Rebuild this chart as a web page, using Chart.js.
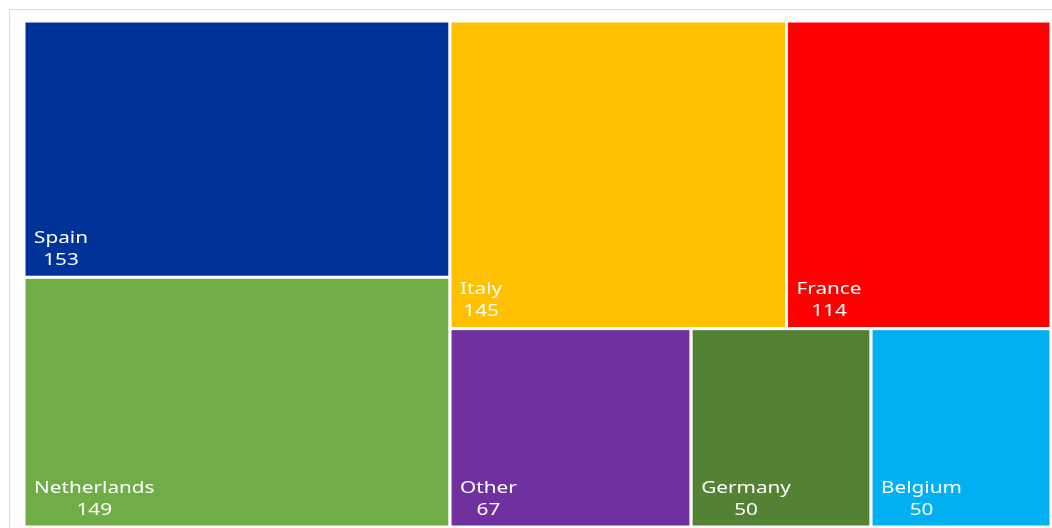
<!DOCTYPE html>
<html>
<head>
<meta charset="utf-8">
<script src="https://cdn.jsdelivr.net/npm/chart.js@4.4.1/dist/chart.umd.min.js"></script>
<style>
    html, body { margin: 0; padding: 0; background: #fff; }
    #wrap { width: 1052px; height: 528px; }
</style>
</head>
<body>
<div id="wrap"><canvas id="treeChart"></canvas></div>
<script>
const countries = ['Spain', 'Netherlands', 'Italy', 'France', 'Other', 'Germany', 'Belgium'];
const counts = [153, 149, 145, 114, 67, 50, 50];
const tileColors = ['#003399', '#70AD47', '#FFC000', '#FF0000', '#7030A0', '#548235', '#00B0F0'];

// squarified layout, strips alternate column / row
function squarify(values, W, H) {
    const rects = [];
    let x = 0, y = 0, w = W, h = H;
    let rem = values.reduce((a, b) => a + b, 0);
    let i = 0, vertical = true;
    while (i < values.length) {
        const scale = (w * h) / rem;
        const side = vertical ? h : w;
        const worst = (row) => {
            const s = row.reduce((a, b) => a + b, 0);
            const t = s * scale / side;
            return Math.max(...row.map(v => { const l = v * scale / t; return Math.max(l / t, t / l); }));
        };
        let row = [values[i]];
        let best = worst(row);
        let j = i + 1;
        while (j < values.length) {
            const cand = row.concat(values[j]);
            const r = worst(cand);
            if (r <= best) { row = cand; best = r; j++; } else break;
        }
        const rowSum = row.reduce((a, b) => a + b, 0);
        const t = rowSum * scale / side;
        let c = vertical ? y : x;
        row.forEach(v => {
            const l = v * scale / t;
            if (vertical) rects.push({ x: x, y: c, w: t, h: l });
            else rects.push({ x: c, y: y, w: l, h: t });
            c += l;
        });
        if (vertical) { x += t; w -= t; } else { y += t; h -= t; }
        rem -= rowSum;
        vertical = !vertical;
        i = j;
    }
    return rects;
}

const treemapPlugin = {
    id: 'treemap',
    beforeDraw(chart) {
        // light frame line top / left
        const ctx = chart.ctx;
        ctx.save();
        ctx.strokeStyle = '#d9d9d9';
        ctx.lineWidth = 1;
        ctx.beginPath();
        ctx.moveTo(9.5, chart.height);
        ctx.lineTo(9.5, 9.5);
        ctx.lineTo(chart.width, 9.5);
        ctx.stroke();
        ctx.restore();
    },
    afterDatasetsDraw(chart) {
        const { ctx, chartArea, scales } = chart;
        const W = chartArea.right - chartArea.left;
        const H = chartArea.bottom - chartArea.top;
        const rects = squarify(counts, W, H);
        ctx.save();
        rects.forEach((r, k) => {
            const x0 = scales.x.getPixelForValue(r.x / W);
            const x1 = scales.x.getPixelForValue((r.x + r.w) / W);
            const y0 = scales.y.getPixelForValue(r.y / H);
            const y1 = scales.y.getPixelForValue((r.y + r.h) / H);
            ctx.fillStyle = tileColors[k];
            ctx.fillRect(x0, y0, x1 - x0, y1 - y0);
            ctx.strokeStyle = '#ffffff';
            ctx.lineWidth = 3;
            ctx.strokeRect(x0, y0, x1 - x0, y1 - y0);

            // labels, stretched a bit like the original
            const sx = 1.22;
            ctx.fillStyle = '#ffffff';
            ctx.textBaseline = 'middle';
            ctx.font = '17px "Noto Sans"';
            const nameW = ctx.measureText(countries[k]).width * sx;
            const lx = x0 + 10;
            ctx.save();
            ctx.translate(lx, y1 - 39);
            ctx.scale(sx, 1);
            ctx.textAlign = 'left';
            ctx.fillText(countries[k], 0, 0);
            ctx.restore();
            ctx.save();
            ctx.translate(lx + nameW / 2, y1 - 17);
            ctx.scale(sx, 1);
            ctx.textAlign = 'center';
            ctx.fillText(String(counts[k]), 0, 0);
            ctx.restore();
        });
        ctx.restore();
    }
};

document.addEventListener('DOMContentLoaded', () => {
    new Chart(document.getElementById('treeChart'), {
        type: 'scatter',
        data: {
            labels: countries,
            datasets: [{ label: 'Count', data: [], pointRadius: 0 }]
        },
        options: {
            responsive: true,
            maintainAspectRatio: false,
            animation: false,
            layout: { padding: { left: 24, top: 21, right: 1, bottom: 1 } },
            plugins: { legend: { display: false }, tooltip: { enabled: false } },
            scales: {
                x: { type: 'linear', min: 0, max: 1, display: false },
                y: { type: 'linear', min: 0, max: 1, reverse: true, display: false }
            }
        },
        plugins: [treemapPlugin]
    });
});
</script>
</body>
</html>
